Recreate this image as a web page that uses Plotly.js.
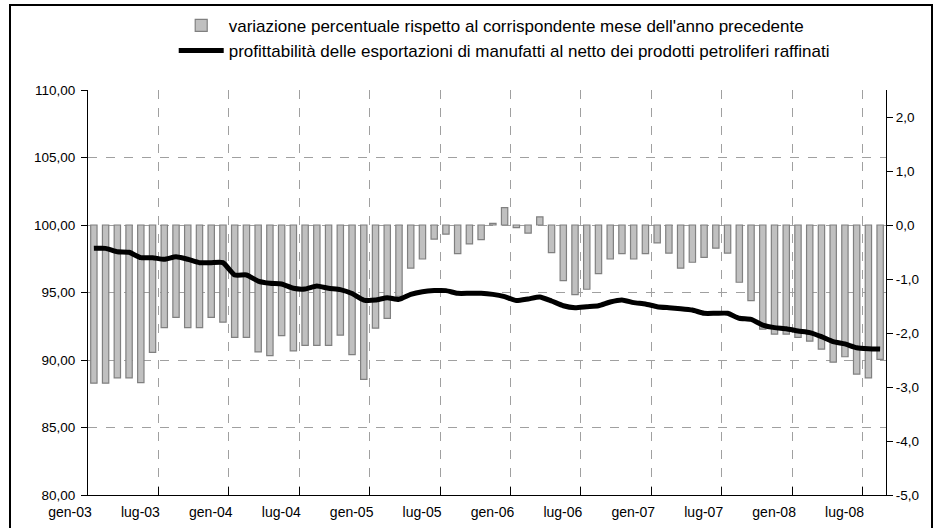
<!DOCTYPE html>
<html>
<head>
<meta charset="utf-8">
<script src="https://cdn.plot.ly/plotly-3.0.1.min.js"></script>
<style>
html,body{margin:0;padding:0;background:#fff;}
#chart{width:939px;height:528px;position:absolute;left:0;top:0;}
#frame{position:absolute;left:9px;top:4px;width:920px;height:540px;border:2px solid #000;pointer-events:none;z-index:10;}
</style>
</head>
<body>
<div id="chart"></div>
<div id="frame"></div>
<script>
// Categories: months Jan 2003 - Aug 2008
const months = [
 'gen-03','feb-03','mar-03','apr-03','mag-03','giu-03','lug-03','ago-03','set-03','ott-03','nov-03','dic-03',
 'gen-04','feb-04','mar-04','apr-04','mag-04','giu-04','lug-04','ago-04','set-04','ott-04','nov-04','dic-04',
 'gen-05','feb-05','mar-05','apr-05','mag-05','giu-05','lug-05','ago-05','set-05','ott-05','nov-05','dic-05',
 'gen-06','feb-06','mar-06','apr-06','mag-06','giu-06','lug-06','ago-06','set-06','ott-06','nov-06','dic-06',
 'gen-07','feb-07','mar-07','apr-07','mag-07','giu-07','lug-07','ago-07','set-07','ott-07','nov-07','dic-07',
 'gen-08','feb-08','mar-08','apr-08','mag-08','giu-08','lug-08','ago-08'
];

// Bars: variazione percentuale (right axis)
const variazione = [
 -2.93,-2.93,-2.83,-2.83,-2.92,-2.36,-1.90,-1.71,-1.90,-1.90,-1.71,-1.80,
 -2.08,-2.08,-2.35,-2.42,-2.05,-2.33,-2.23,-2.23,-2.23,-2.04,-2.40,-2.86,
 -1.91,-1.73,-1.32,-0.80,-0.63,-0.26,-0.17,-0.53,-0.35,-0.27,0.03,0.32,
 -0.05,-0.15,0.15,-0.51,-1.03,-1.29,-1.19,-0.90,-0.63,-0.53,-0.63,-0.53,
 -0.33,-0.52,-0.80,-0.69,-0.60,-0.43,-0.52,-1.06,-1.40,-1.93,-2.02,-2.02,
 -2.08,-2.15,-2.30,-2.54,-2.44,-2.76,-2.83,-2.49
];

// Line: profittabilità (left axis)
const profittabilita = [
 98.27,98.27,98.02,97.98,97.58,97.58,97.46,97.65,97.46,97.21,97.21,97.21,
 96.30,96.30,95.85,95.68,95.63,95.31,95.26,95.48,95.31,95.21,94.92,94.44,
 94.44,94.62,94.49,94.86,95.06,95.14,95.14,94.94,94.94,94.94,94.86,94.69,
 94.40,94.52,94.67,94.37,94.02,93.87,93.95,94.02,94.30,94.45,94.25,94.15,
 93.95,93.87,93.80,93.70,93.46,93.46,93.46,93.09,93.01,92.59,92.40,92.32,
 92.15,92.03,91.73,91.36,91.19,90.91,90.84,90.81
];

// Tick labels
const xTickText = ['gen-03','lug-03','gen-04','lug-04','gen-05','lug-05','gen-06','lug-06','gen-07','lug-07','gen-08','lug-08'];
const leftTicks = [80,85,90,95,100,105,110];
const leftTickText = ['80,00','85,00','90,00','95,00','100,00','105,00','110,00'];
const rightTicks = [-5,-4,-3,-2,-1,0,1,2];
const rightTickText = ['-5,0','-4,0','-3,0','-2,0','-1,0','0,0','1,0','2,0'];

const xIdx = months.map((m, i) => i);
const xTickVals = xTickText.map(t => months.indexOf(t) - 0.5);

const FONT = 'Liberation Sans, Arial, sans-serif';

const traces = [
  {
    type: 'bar',
    name: 'variazione percentuale rispetto al corrispondente mese dell\'anno precedente',
    x: xIdx,
    y: variazione,
    yaxis: 'y',
    width: 0.54,
    marker: {color: '#c0c0c0', line: {color: '#808080', width: 1.2}},
    hoverinfo: 'y'
  },
  {
    type: 'scatter',
    mode: 'lines',
    name: 'profittabilità delle esportazioni di manufatti al netto dei prodotti petroliferi raffinati',
    x: xIdx,
    y: profittabilita,
    yaxis: 'y2',
    line: {color: '#000000', width: 5, shape: 'spline', smoothing: 0.5},
    hoverinfo: 'y'
  }
];

const layout = {
  width: 939,
  height: 528,
  margin: {l: 88, r: 53, t: 90, b: 33, autoexpand: false},
  paper_bgcolor: '#ffffff',
  plot_bgcolor: '#ffffff',
  font: {family: FONT, size: 13, color: '#000'},
  showlegend: true,
  legend: {
    xref: 'container', yref: 'container',
    x: 0.185, y: 0.985, xanchor: 'left', yanchor: 'top',
    font: {family: FONT, size: 17, color: '#000'},
    bgcolor: 'rgba(0,0,0,0)',
    itemwidth: 45,
    tracegroupgap: 0
  },
  xaxis: {
    range: [-0.5, 67.5],
    tickmode: 'array',
    tickvals: xTickVals,
    ticktext: xTickText,
    tickangle: 0,
    ticks: 'inside', ticklen: 8, tickcolor: '#000', tickwidth: 1,
    ticklabelshift: -18,
    ticklabelstandoff: 4,
    tickfont: {family: FONT, size: 14, color: '#000'},
    showgrid: true, gridcolor: '#a0a0a0', griddash: 'dash', gridwidth: 1,
    showline: true, linecolor: '#000', linewidth: 1,
    zeroline: false,
    fixedrange: true
  },
  yaxis: {
    side: 'right',
    range: [-5, 2.5],
    tickmode: 'array',
    tickvals: rightTicks,
    ticktext: rightTickText,
    ticks: 'outside', ticklen: 6, tickcolor: '#000',
    tickfont: {family: FONT, size: 13.5, color: '#000'},
    showgrid: false, zeroline: false,
    showline: true, linecolor: '#000', linewidth: 1,
    fixedrange: true
  },
  yaxis2: {
    overlaying: 'y',
    side: 'left',
    range: [80, 110],
    tickmode: 'array',
    tickvals: leftTicks,
    ticktext: leftTickText,
    ticks: 'outside', ticklen: 6, tickcolor: '#000',
    ticklabelstandoff: 3,
    tickfont: {family: FONT, size: 13.5, color: '#000'},
    showgrid: true, gridcolor: '#a0a0a0', griddash: 'dash', gridwidth: 1,
    zeroline: false,
    showline: true, linecolor: '#000', linewidth: 1,
    fixedrange: true
  }
};

Plotly.newPlot('chart', traces, layout, {displayModeBar: false, staticPlot: true});
</script>
</body>
</html>
